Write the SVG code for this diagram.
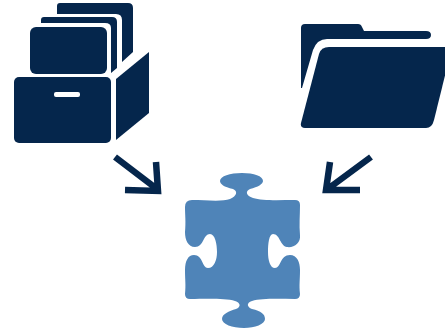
<svg xmlns="http://www.w3.org/2000/svg" width="445" height="329" viewBox="0 0 445 329">
<style>
.d{fill:#05264c}
.a{fill:none;stroke:#05264c;stroke-width:6.5}
.p{fill:#4f84b8}
</style>
<rect width="445" height="329" fill="#fff"/>
<g id="file-box">
<path class="d" d="M60 3H128Q133 3 133 8V52L122 62V20Q122 14 116 14H57V6Q57 3 60 3Z"/>
<path class="d" d="M44 17H112Q117 17 117 22V68L111 73V28Q111 23 105 23H41V20Q41 17 44 17Z"/>
<rect class="d" x="30" y="27" width="77" height="47" rx="6"/>
<rect class="d" x="14" y="77" width="97" height="66" rx="5"/>
<rect x="54" y="92" width="26" height="5" rx="2" fill="#fff"/>
<path class="d" d="M116 79L149 52V113L116 140Z"/>
</g>
<g id="folder">
<path class="d" d="M305 24H358Q361 24 362 27L364 31H426Q431 31 431 35Q431 39 426 39H327Q317 39 313 50L302 88H301V28Q301 24 305 24Z"/>
<path class="d" d="M329 47H452L434 120Q432 128 426 128H305Q300 128 301 123L319 54Q321 47 329 47Z"/>
</g>
<g id="puzzle">
<path class="p" d="M192 200C205 200 222 202 230 199C237 196 238 191 233 189C224 187 220 184 220 181C220 176 230 173 242 173C254 173 263 176 263 181C263 184 258 187 250 189C245 191 246 196 253 198C262 201 280 200 295 200Q300 200 300 205C300 215 299 225 300 235C301 243 294 248 287 247C280 246 280 234 273 234C269 234 268 244 268 252C268 260 270 268 275 268C281 268 280 255 290 255C297 255 300 262 300 270C300 280 299 285 300 294Q300 299 295 299C280 299 262 298 252 301C246 303 247 307 252 309C261 311 265 314 265 319C265 324 255 328 244 328C232 328 222 324 222 319C222 314 229 311 236 309C241 307 241 303 235 301C225 298 205 299 190 299Q185 299 185 294C186 285 185 280 185 270C185 261 188 255 194 255C203 255 202 268 208 268C214 268 217 260 217 252C217 244 215 234 210 234C203 234 204 247 195 247C188 247 185 240 185 232C186 222 185 215 185 207Q185 200 192 200Z"/>
</g>
<g id="connectors">
<path class="a" d="M115 157L157 189M156 162L158 191L125 190"/>
<path class="a" d="M371 157L329 188M330 162L326 190L360 190"/>
</g>
</svg>
